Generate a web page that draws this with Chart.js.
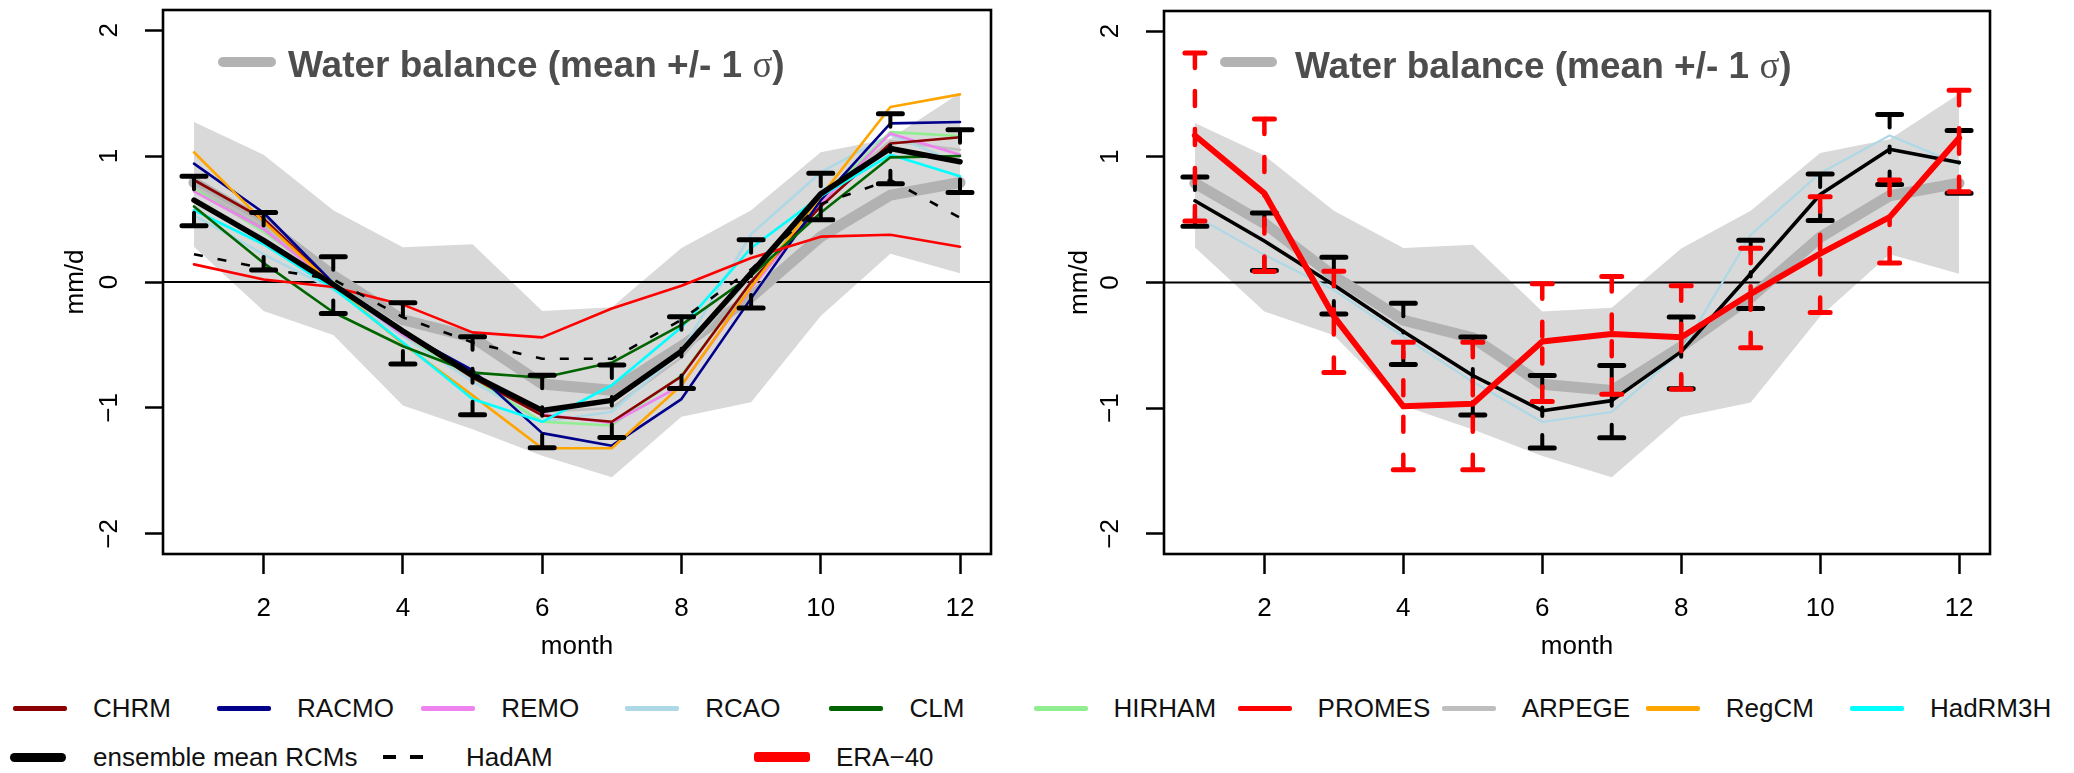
<!DOCTYPE html>
<html><head><meta charset="utf-8">
<script src="https://cdn.jsdelivr.net/npm/chart.js@4.4.1/dist/chart.umd.min.js"></script>
<style>
html,body{margin:0;padding:0;background:#fff;}
body{width:2074px;height:773px;position:relative;overflow:hidden;font-family:"Liberation Sans",Arial,sans-serif;}
canvas{position:absolute;top:0;}
#legend{position:absolute;left:0;top:680px;width:2074px;height:93px;}
.sw{position:absolute;}
.lt{position:absolute;font-size:26px;line-height:30px;color:#111;white-space:nowrap;}
</style></head><body>
<canvas id="left" width="1037" height="680" style="left:0"></canvas>
<canvas id="right" width="1037" height="680" style="left:1037px"></canvas>
<div id="legend"></div>
<script>
// ---------- data ----------
const months = [1,2,3,4,5,6,7,8,9,10,11,12];
const xTicks = [2,4,6,8,10,12];
const xTickLabels = ['2','4','6','8','10','12'];
const yTicks = [-2,-1,0,1,2];
const yTickLabels = ['\u22122','\u22121','0','1','2'];

// water balance (mean +/- 1 sigma)
const wbUpper = [1.27, 1.01, 0.57, 0.275, 0.30, -0.23, -0.20, 0.27, 0.57, 1.03, 1.14, 1.50];
const wbLower = [0.28, -0.23, -0.42, -0.98, -1.17, -1.38, -1.55, -1.07, -0.955, -0.27, 0.225, 0.07];
const wbMean  = [0.79, 0.47, 0.05, -0.30, -0.44, -0.81, -0.86, -0.51, -0.12, 0.36, 0.69, 0.79];

// RCMs
const CHRM    = [0.81, 0.50, -0.02, -0.40, -0.76, -1.06, -1.11, -0.75, 0.00, 0.60, 1.10, 1.15];
const RACMO   = [0.94, 0.55, -0.01, -0.40, -0.70, -1.20, -1.30, -0.93, -0.13, 0.65, 1.26, 1.27];
const REMO    = [0.72, 0.42, -0.02, -0.42, -0.72, -1.05, -1.12, -0.82, -0.05, 0.62, 1.18, 1.01];
const RCAO    = [0.53, 0.22, -0.06, -0.43, -0.79, -1.11, -1.03, -0.55, 0.38, 0.87, 1.17, 0.94];
const CLM     = [0.60, 0.15, -0.24, -0.51, -0.72, -0.76, -0.64, -0.34, 0.05, 0.55, 0.99, 1.00];
const HIRHAM  = [0.74, 0.40, 0.00, -0.42, -0.76, -1.11, -1.14, -0.74, 0.00, 0.65, 1.19, 1.16];
const PROMES  = [0.14, 0.02, -0.04, -0.18, -0.40, -0.44, -0.21, -0.03, 0.19, 0.36, 0.375, 0.28];
const ARPEGE  = [0.76, 0.45, 0.00, -0.40, -0.74, -1.03, -1.00, -0.60, 0.05, 0.66, 1.12, 1.05];
const RegCM   = [1.03, 0.48, -0.03, -0.49, -0.90, -1.32, -1.32, -0.82, -0.04, 0.68, 1.39, 1.49];
const HadRM3H = [0.57, 0.30, -0.05, -0.48, -0.93, -1.11, -0.82, -0.36, 0.27, 0.68, 1.01, 0.84];
const HadAM   = [0.22, 0.11, 0.02, -0.28, -0.48, -0.61, -0.61, -0.30, 0.10, 0.62, 0.81, 0.51];

// ensemble mean of RCMs and its spread
const ensMean  = [0.65, 0.33, -0.02, -0.39, -0.74, -1.02, -0.94, -0.55, 0.07, 0.70, 1.06, 0.955];
const ensUpper = [0.84, 0.552, 0.20, -0.165, -0.434, -0.74, -0.66, -0.275, 0.336, 0.863, 1.337, 1.21];
const ensLower = [0.447, 0.095, -0.25, -0.652, -1.055, -1.316, -1.235, -0.845, -0.207, 0.494, 0.78, 0.71];

// ERA-40 and its spread
const eraMean  = [1.17, 0.71, -0.27, -0.985, -0.965, -0.47, -0.41, -0.435, -0.09, 0.23, 0.52, 1.15];
const eraUpper = [1.825, 1.30, 0.09, -0.475, -0.475, -0.01, 0.048, -0.026, 0.272, 0.683, 0.815, 1.529];
const eraLower = [0.49, 0.087, -0.717, -1.489, -1.489, -0.947, -0.89, -0.85, -0.52, -0.238, 0.155, 0.722];

const rcmNames = ['CHRM','RACMO','REMO','RCAO','CLM','HIRHAM','PROMES','ARPEGE','RegCM','HadRM3H'];
const rcmColors = ['#8B0000','#00008B','#EE82EE','#ADD8E6','#006400','#90EE90','#FF0000','#BEBEBE','#FFA500','#00FFFF'];
const rcmValues = [CHRM, RACMO, REMO, RCAO, CLM, HIRHAM, PROMES, ARPEGE, RegCM, HadRM3H];

// ---------- helpers ----------
Chart.defaults.font.family = '"Liberation Sans", Arial, sans-serif';
Chart.defaults.color = '#000';

function pts(arr){ return months.map((m,i)=>({x:m, y:arr[i]})); }
function lineDs(label, arr, color, width, order, extra){
  return Object.assign({
    label, data: pts(arr), borderColor: color, backgroundColor: color,
    borderWidth: width, pointRadius: 0, pointHoverRadius: 0, tension: 0,
    fill: false, order, borderCapStyle: 'round', borderJoinStyle: 'round'
  }, extra || {});
}
function bandSets(){
  return [
    lineDs('bandLower', wbLower, 'rgba(0,0,0,0)', 1, 101),
    lineDs('bandUpper', wbUpper, 'rgba(0,0,0,0)', 1, 100, {fill: '-1', backgroundColor: '#D9D9D9'})
  ];
}

function drawBars(chart, upper, lower, mean, o){
  const ctx = chart.ctx, xs = chart.scales.x, ys = chart.scales.y;
  ctx.save();
  ctx.strokeStyle = o.color;
  ctx.lineCap = 'round';
  months.forEach((m,i)=>{
    const x = xs.getPixelForValue(m);
    const yU = ys.getPixelForValue(upper[i]);
    const yL = ys.getPixelForValue(lower[i]);
    const yM = ys.getPixelForValue(mean[i]);
    ctx.lineWidth = o.stemW;
    ctx.setLineDash(o.dash);
    ctx.beginPath(); ctx.moveTo(x, yU); ctx.lineTo(x, yM); ctx.stroke();
    ctx.beginPath(); ctx.moveTo(x, yL); ctx.lineTo(x, yM); ctx.stroke();
    ctx.setLineDash([]);
    ctx.lineWidth = o.capW;
    ctx.beginPath();
    ctx.moveTo(x - o.capLen/2, yU); ctx.lineTo(x + o.capLen/2, yU);
    ctx.moveTo(x - o.capLen/2, yL); ctx.lineTo(x + o.capLen/2, yL);
    ctx.stroke();
  });
  ctx.restore();
}

function makeChart(id, cfg){
  const plugin = {
    id: 'deco_' + id,
    afterDatasetDraw(chart, args){
      const lbl = chart.data.datasets[args.index].label;
      const ctx = chart.ctx, a = chart.chartArea, ys = chart.scales.y;
      if (lbl === 'bandUpper'){
        const y0 = ys.getPixelForValue(0);
        ctx.save(); ctx.strokeStyle = '#000'; ctx.lineWidth = 2;
        ctx.beginPath(); ctx.moveTo(a.left, y0); ctx.lineTo(a.right, y0); ctx.stroke();
        ctx.restore();
      }
      if (lbl === 'ensemble mean RCMs'){
        drawBars(chart, ensUpper, ensLower, ensMean, {color:'#000', stemW:4, capW:5, capLen:24, dash:[13,19]});
      }
      if (lbl === 'ERA-40'){
        drawBars(chart, eraUpper, eraLower, eraMean, {color:'#FF0000', stemW:4.5, capW:5, capLen:20, dash:[15,23]});
      }
    },
    afterDraw(chart){
      const ctx = chart.ctx, a = chart.chartArea, ys = chart.scales.y;
      ctx.save();
      // box
      ctx.strokeStyle = '#000'; ctx.lineWidth = 2.6;
      ctx.strokeRect(a.left, a.top, a.right - a.left, a.bottom - a.top);
      // rotated y tick labels
      ctx.fillStyle = '#000';
      ctx.font = '26px "Liberation Sans", Arial, sans-serif';
      ctx.textAlign = 'center'; ctx.textBaseline = 'middle';
      yTicks.forEach((v,i)=>{
        const y = ys.getPixelForValue(v);
        ctx.save(); ctx.translate(a.left - 53, y); ctx.rotate(-Math.PI/2);
        ctx.fillText(yTickLabels[i], 0, 0); ctx.restore();
      });
      // inner legend
      const L = cfg.leg;
      ctx.strokeStyle = '#B3B3B3'; ctx.lineWidth = 10; ctx.lineCap = 'round';
      ctx.beginPath(); ctx.moveTo(a.left + L.sw0 + 5, L.swY); ctx.lineTo(a.left + L.sw1 - 5, L.swY); ctx.stroke();
      ctx.fillStyle = '#4D4D4D';
      ctx.textAlign = 'left'; ctx.textBaseline = 'alphabetic';
      let x = a.left + L.tx;
      const part1 = 'Water balance (mean +/- 1 ';
      ctx.font = 'bold 37px "Liberation Sans", Arial, sans-serif';
      ctx.fillText(part1, x, L.base); x += ctx.measureText(part1).width;
      ctx.font = '37px "Liberation Serif", "DejaVu Serif", serif';
      ctx.fillText('\u03C3', x, L.base); x += ctx.measureText('\u03C3').width;
      ctx.font = 'bold 37px "Liberation Sans", Arial, sans-serif';
      ctx.fillText(')', x, L.base);
      ctx.restore();
    }
  };
  return new Chart(document.getElementById(id), {
    type: 'line',
    data: { datasets: cfg.datasets },
    options: {
      responsive: false, animation: false, events: [],
      layout: { padding: { left: 0, right: cfg.padRight, top: cfg.padTop, bottom: 0 } },
      plugins: { legend: { display: false }, tooltip: { enabled: false } },
      scales: {
        x: {
          type: 'linear', min: 0.555, max: 12.445,
          afterBuildTicks: s => { s.ticks = xTicks.map(v => ({value: v})); },
          ticks: { callback: (v, i) => xTickLabels[i], font: { size: 26 }, color: '#000', padding: 19, maxRotation: 0, autoSkip: false },
          grid: { drawOnChartArea: false, drawTicks: true, tickLength: 20, tickWidth: 2.5, tickColor: '#000' },
          border: { display: false },
          title: { display: true, text: 'month', font: { size: 26 }, color: '#000', padding: { top: 0, bottom: 18 } },
          afterFit: s => { s.height = 126; }
        },
        y: {
          type: 'linear', min: -2.16, max: 2.16,
          afterBuildTicks: s => { s.ticks = yTicks.map(v => ({value: v})); },
          ticks: { display: false },
          grid: { drawOnChartArea: false, drawTicks: true, tickLength: 18, tickWidth: 2.5, tickColor: '#000' },
          border: { display: false },
          title: { display: true, text: 'mm/d', font: { size: 26 }, color: '#000', padding: { top: cfg.yTitlePad, bottom: 0 } },
          afterFit: s => { s.width = cfg.yAxisWidth; }
        }
      }
    },
    plugins: [plugin]
  });
}

// ---------- left panel ----------
const leftSets = bandSets();
leftSets.push(lineDs('water balance mean', wbMean, '#B2B2B2', 11, 90));
const leftOrder = [7,3,5,2,0,1,8,9,4,6]; // drawing sequence of RCMs (first drawn first)
leftOrder.forEach((k, j) => {
  leftSets.push(lineDs(rcmNames[k], rcmValues[k], rcmColors[k], 2.6, 80 - j));
});
leftSets.push(lineDs('HadAM', HadAM, '#000', 2.6, 60, {borderDash: [9, 15], borderCapStyle: 'butt'}));
leftSets.push(lineDs('ensemble mean RCMs', ensMean, '#000', 5.5, 50));

makeChart('left', {
  datasets: leftSets, yAxisWidth: 163, padRight: 46, padTop: 10, yTitlePad: 60,
  leg: { sw0: 55, sw1: 113, swY: 62, tx: 125, base: 77 }
});

// ---------- right panel ----------
const rightSets = bandSets();
rightSets.push(lineDs('water balance mean', wbMean, '#B2B2B2', 11, 90));
rightSets.push(lineDs('RCAO', RCAO, '#ADD8E6', 2.2, 80));
rightSets.push(lineDs('ensemble mean RCMs', ensMean, '#000', 3.6, 50));
rightSets.push(lineDs('ERA-40', eraMean, '#FF0000', 6, 40));

makeChart('right', {
  datasets: rightSets, yAxisWidth: 127, padRight: 84, padTop: 11, yTitlePad: 27,
  leg: { sw0: 56, sw1: 113, swY: 62, tx: 131, base: 78 }
});

// ---------- bottom legend (HTML text) ----------
const leg = document.getElementById('legend');
function addSwatch(x, y, w, h, color, radius){
  const d = document.createElement('div'); d.className = 'sw';
  d.style.left = x + 'px'; d.style.top = (y - h/2) + 'px';
  d.style.width = w + 'px'; d.style.height = h + 'px';
  d.style.background = color; d.style.borderRadius = (radius || 0) + 'px';
  leg.appendChild(d);
}
function addText(x, y, t){
  const s = document.createElement('span'); s.className = 'lt';
  s.style.left = x + 'px'; s.style.top = (y - 15) + 'px'; s.textContent = t;
  leg.appendChild(s);
}
rcmNames.forEach((n, i) => {
  const x0 = 13 + i * 204.1;
  addSwatch(x0, 28, 54, 5, rcmColors[i], 2);
  addText(x0 + 80, 28, n);
});
addSwatch(10, 77, 56, 9, '#000', 4.5);
addText(93, 77, 'ensemble mean RCMs');
addSwatch(383, 77, 13, 4, '#000', 0);
addSwatch(410, 77, 13, 4, '#000', 0);
addText(466, 77, 'HadAM');
addSwatch(754, 77, 56, 10, '#FF0000', 3);
addText(836, 77, 'ERA\u221240');
</script>
</body></html>
